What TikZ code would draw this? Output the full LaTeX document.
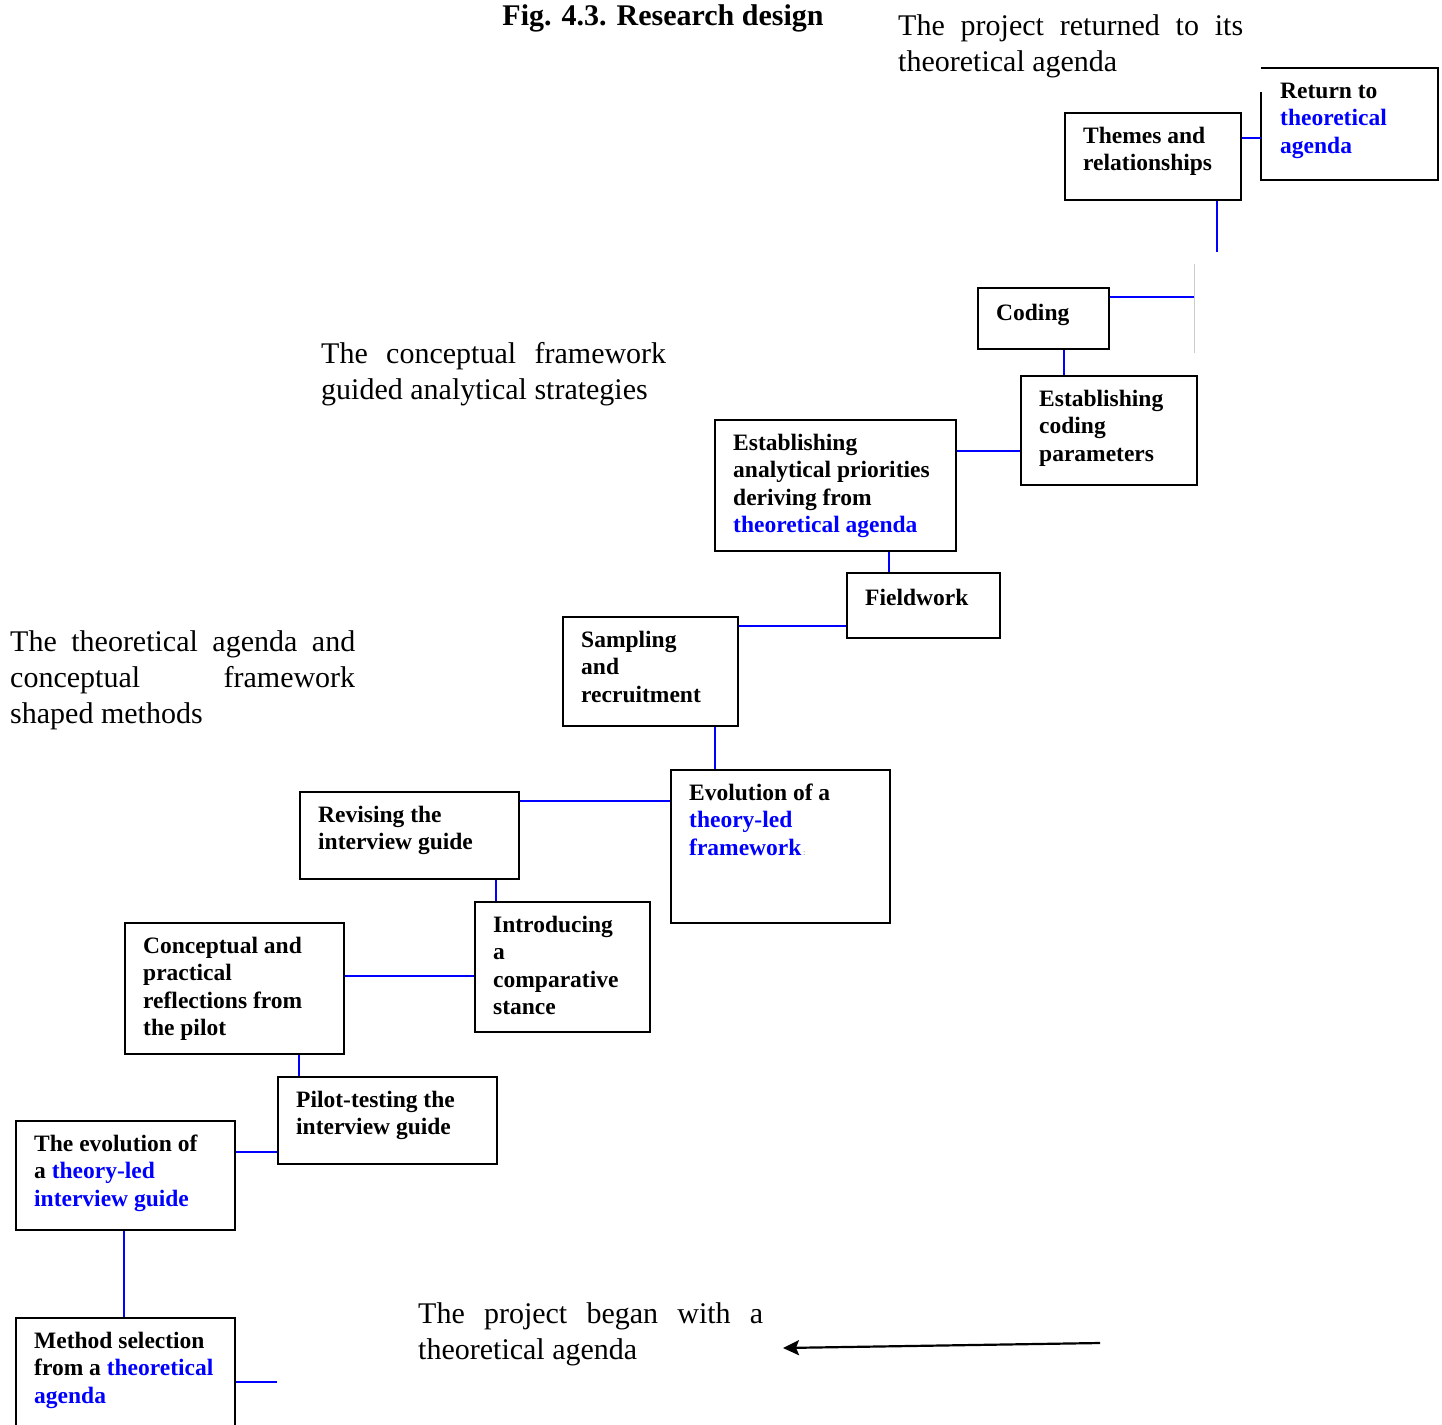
\documentclass[tikz,border=0pt]{standalone}
\usepackage{fontspec}
\setmainfont{Liberation Serif}
\usetikzlibrary{arrows.meta}
\definecolor{linkBlue}{RGB}{0,0,255}
\newcommand{\theoryText}[1]{\textcolor{linkBlue}{#1}}

\begin{document}
\begin{tikzpicture}
[x=1pt,y=-1pt,%
  boxDecorate/.style={draw,line width=2pt,anchor=north west,inner sep=0pt},%
  boxText/.style={anchor=north west,align=left,inner sep=0pt,execute at begin node=\strut,
    font=\bfseries\fontsize{23.5}{27.5}\selectfont},%
  storyText/.style={anchor=north west,align=left,inner sep=0pt,execute at begin node=\strut,
    font=\fontsize{30}{36}\selectfont},%
  blueLine/.style={draw=linkBlue,line width=2pt},%
  darkArrow/.style={-{Stealth[length=16pt,width=15pt,inset=3pt]},line width=2.2pt},%
  strayLine/.style={draw=black!20,line width=0.8pt}]
\useasboundingbox (0,0) rectangle (1442,1424);
%% title
\node (title) at (663,25) [anchor=base,font=\bfseries\fontsize{30}{36}\selectfont] {Fig. 4.3. Research design};
%% boxes
\foreach \boxname/\x/\y/\w/\h in {themes/1064/112/176/87, coding/977/287/131/61,
  estcod/1020/375/176/109, estana/714/419/241/131, field/846/572/153/65,
  samp/562/616/175/109, evolf/670/769/219/153, revis/299/791/219/87,
  intro/474/901/175/130, concp/124/922/219/131, pilot/277/1076/219/87,
  evolg/15/1120/219/109, method/15/1317/219/115}
{
  \node (\boxname) at (\x,\y) [boxDecorate,minimum width=\w pt,minimum height=\h pt] {};
}
\node (ret) at (1261,68) [boxDecorate,draw=none,minimum width=175pt,minimum height=110pt] {};
\draw[line width=2pt] ([yshift=-24pt]ret.north west) -- (ret.south west) -- (ret.south east)
  -- (ret.north east) -- (ret.north west);
%% box texts
\foreach \boxname/\txt in {
  ret/{Return to\\\theoryText{theoretical}\\\theoryText{agenda}},
  themes/{Themes and\\relationships},
  coding/{Coding},
  estcod/{Establishing\\coding\\parameters},
  estana/{Establishing\\analytical priorities\\deriving from\\\theoryText{theoretical agenda}},
  field/{Fieldwork},
  samp/{Sampling\\and\\recruitment},
  evolf/{Evolution of a\\\theoryText{theory-led}\\\theoryText{framework}{\color{black!25}\fontsize{9}{9}\selectfont\,:}},
  revis/{Revising the\\interview guide},
  intro/{Introducing\\a\\comparative\\stance},
  concp/{Conceptual and\\practical\\reflections from\\the pilot},
  pilot/{Pilot-testing the\\interview guide},
  evolg/{The evolution of\\a \theoryText{theory-led}\\\theoryText{interview guide}},
  method/{Method selection\\from a \theoryText{theoretical}\\\theoryText{agenda}}}
{
  \node (\boxname-t) at ([shift={(19pt,-14.5pt)}]\boxname.north west) [boxText] {\txt};
}
%% side notes
\node (returned) at (898,14) [storyText] {\makebox[345pt][s]{The project returned to its}\\theoretical agenda};
\node (guided) at (321,342) [storyText] {\makebox[345pt][s]{The conceptual framework}\\guided analytical strategies};
\node (shaped) at (10,630) [storyText] {\makebox[345pt][s]{The theoretical agenda and}\\\makebox[345pt][s]{conceptual framework}\\shaped methods};
\node (began) at (418,1302) [storyText] {\makebox[345pt][s]{The project began with a}\\theoretical agenda};
%% blue links, side to side
\foreach \startnode/\endnode/\dy in {themes/ret/26, estana/estcod/32, samp/field/10,
  revis/evolf/10, concp/intro/54, evolg/pilot/32}
{
  \draw[blueLine] ([yshift=-\dy pt]\startnode.north east) -- ([yshift=-\dy pt]\startnode.north east -| \endnode.west);
}
%% blue links, bottom to top
\foreach \startnode/\endnode/\dx in {coding/estcod/87, estana/field/175, samp/evolf/153,
  revis/intro/197, concp/pilot/175, evolg/method/109}
{
  \draw[blueLine] ([xshift=\dx pt]\startnode.south west) -- ([xshift=\dx pt]\startnode.south west |- \endnode.north);
}
%% loose ends
\coordinate (themesEnd) at (1217,252);
\coordinate (codingEnd) at (1194,297);
\coordinate (methodEnd) at (277,1382);
\draw[blueLine] ([xshift=153pt]themes.south west) -- (themesEnd);
\draw[blueLine] ([yshift=-10pt]coding.north east) -- (codingEnd);
\draw[blueLine] ([yshift=-65pt]method.north east) -- (methodEnd);
\draw[strayLine] (1194,264) -- (1194,353);
%% arrow
\coordinate (arrowTail) at (1100,1343);
\coordinate (arrowTip) at (783,1348);
\draw[darkArrow] (arrowTail) -- (arrowTip);
\end{tikzpicture}
\end{document}
